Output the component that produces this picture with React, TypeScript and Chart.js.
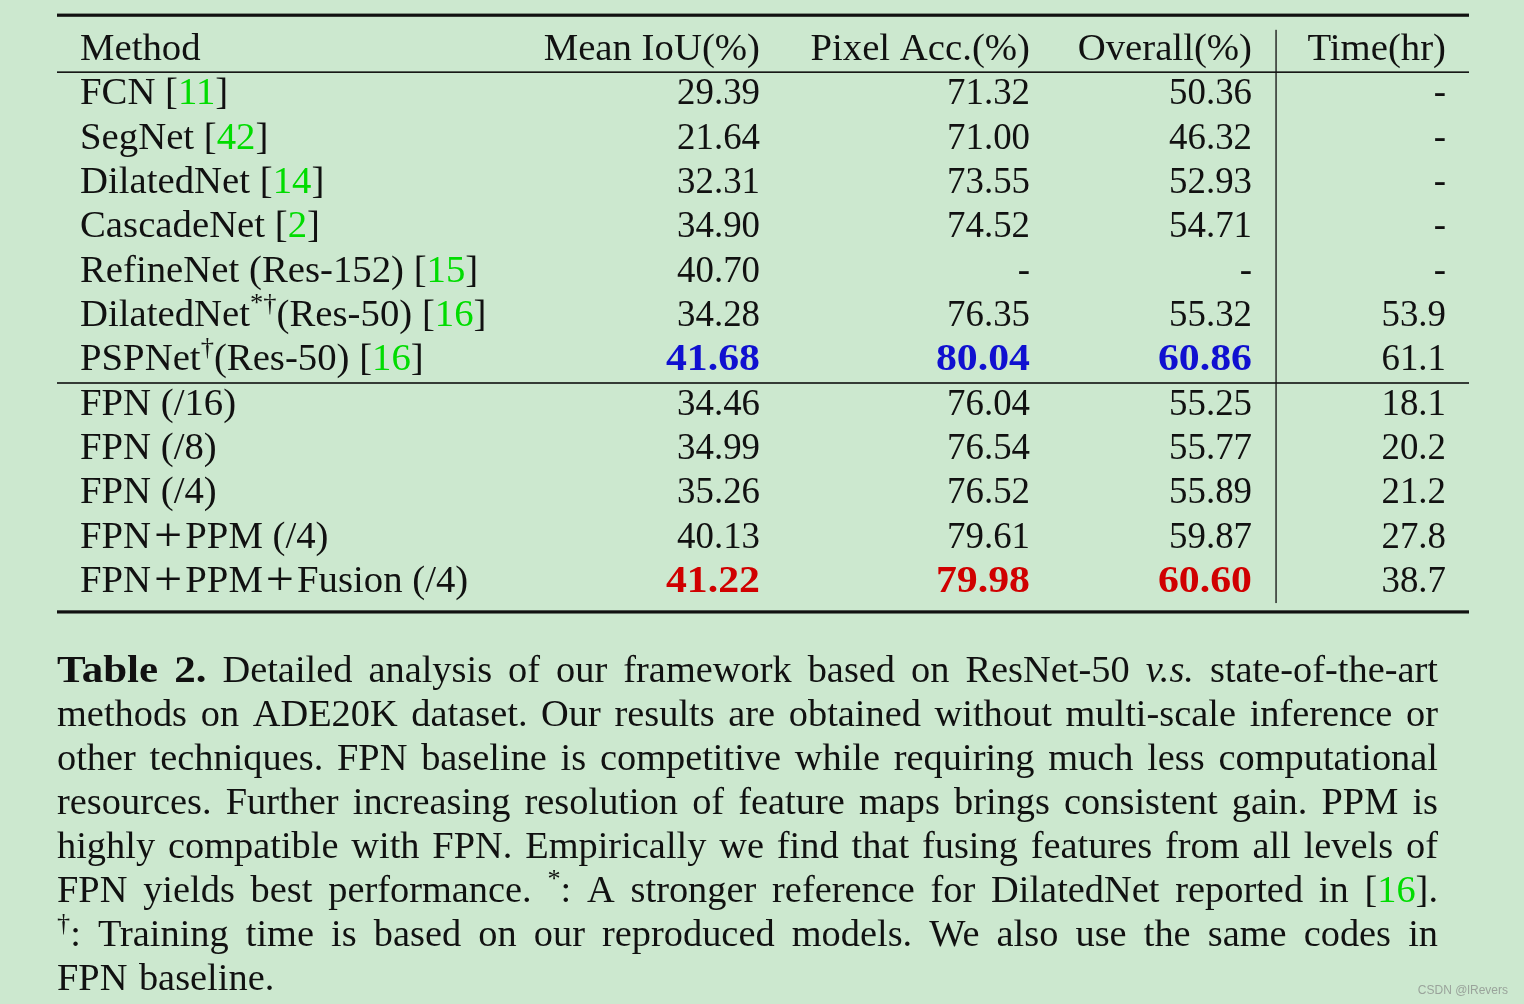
import React, { useEffect, useRef } from "react";
import { Chart, registerables } from "chart.js";

Chart.register(...registerables);

// ---------------- data ----------------
const headers = ["Method", "Mean IoU(%)", "Pixel Acc.(%)", "Overall(%)", "Time(hr)"];

const methods = [
  "FCN [{g:11}]",
  "SegNet [{g:42}]",
  "DilatedNet [{g:14}]",
  "CascadeNet [{g:2}]",
  "RefineNet (Res-152) [{g:15}]",
  "DilatedNet{sup:*†}(Res-50) [{g:16}]",
  "PSPNet{sup:†}(Res-50) [{g:16}]",
  "FPN (/16)",
  "FPN (/8)",
  "FPN (/4)",
  "FPN+PPM (/4)",
  "FPN+PPM+Fusion (/4)",
];

const meanIoU = [29.39, 21.64, 32.31, 34.9, 40.7, 34.28, 41.68, 34.46, 34.99, 35.26, 40.13, 41.22];
const pixelAcc = [71.32, 71.0, 73.55, 74.52, null, 76.35, 80.04, 76.04, 76.54, 76.52, 79.61, 79.98];
const overall = [50.36, 46.32, 52.93, 54.71, null, 55.32, 60.86, 55.25, 55.77, 55.89, 59.87, 60.6];
const timeHr = [null, null, null, null, null, 53.9, 61.1, 18.1, 20.2, 21.2, 27.8, 38.7];

// highlight of the three metric columns per row
const highlight: (string | null)[] = [null, null, null, null, null, null, "blue", null, null, null, null, "red"];
const groupBreakAfter = 6; // rule drawn after this row index (PSPNet)

const captionLines = [
  "{b:Table} {b:2.} Detailed analysis of our framework based on ResNet-50 {i:v.s.} state-of-the-art",
  "methods on ADE20K dataset. Our results are obtained without multi-scale inference or",
  "other techniques. FPN baseline is competitive while requiring much less computational",
  "resources. Further increasing resolution of feature maps brings consistent gain. PPM is",
  "highly compatible with FPN. Empirically we find that fusing features from all levels of",
  "FPN yields best performance. {sup:*}: A stronger reference for DilatedNet reported in [{g:16}].",
  "{sup:†}: Training time is based on our reproduced models. We also use the same codes in",
  "FPN baseline.",
];

const watermark = "CSDN @lRevers";

// ---------------- styles / layout ----------------
const W = 1524;
const H = 1004;
const BG = "#cce8cf";
const INK = "#111111";
const GREEN = "#00dc00";
const COLORS: Record<string, string> = { blue: "#1010d0", red: "#d00000" };
const FAMILY = '"Liberation Serif", "Times New Roman", serif';
const FS = 38;
// horizontal glyph stretch factors (Computer Modern proportions differ from Times)
const SX_TEXT = 1.02;
const SX_NUM = 0.97;
const SX_BOLDNUM = 1.1;
const SX_CAPTION = 1.01;
const BOLD_EXTRA = 1.12;
const PLUS_SCALE = 1.3;
const PLUS_PAD = 3;
const colAnchor = [80, 760, 1030, 1252, 1446];
const colAlign: CanvasTextAlign[] = ["left", "right", "right", "right", "right"];
const ruleLeft = 57;
const ruleRight = 1469;
const vLineX = 1276;
const captionLeft = 57;
const captionRight = 1438;
const captionLH = 44;

type Run = { text: string; kind: string };

function parseRich(s: string): Run[] {
  const out: Run[] = [];
  const re = /\{(\w+):([^}]*)\}/g;
  let last = 0;
  let m: RegExpExecArray | null;
  const pushPlain = (t: string) => {
    // split '+' into its own wide run (CM plus is much wider than Times)
    t.split(/(\+)/).forEach((p) => {
      if (!p) return;
      out.push({ text: p, kind: p === "+" ? "plus" : "n" });
    });
  };
  while ((m = re.exec(s))) {
    if (m.index > last) pushPlain(s.slice(last, m.index));
    out.push({ text: m[2], kind: m[1] });
    last = m.index + m[0].length;
  }
  if (last < s.length) pushPlain(s.slice(last));
  return out;
}

function fontFor(kind: string, bold: boolean) {
  const b = bold ? "bold " : "";
  if (kind === "b") return `bold ${FS}px ${FAMILY}`;
  if (kind === "i") return `${b}italic ${FS}px ${FAMILY}`;
  if (kind === "sup") return `${b}${Math.round(FS * 0.68)}px ${FAMILY}`;
  if (kind === "plus") return `${b}${Math.round(FS * PLUS_SCALE)}px ${FAMILY}`;
  return `${b}${FS}px ${FAMILY}`;
}

function sxOf(r: Run, sx: number) {
  return r.kind === "b" ? sx * BOLD_EXTRA : sx;
}

function textW(ctx: CanvasRenderingContext2D, r: Run, bold: boolean, sx: number) {
  ctx.font = fontFor(r.kind, bold);
  const pad = r.kind === "plus" ? PLUS_PAD * 2 : 0;
  return ctx.measureText(r.text).width * sxOf(r, sx) + pad;
}

function runsWidth(ctx: CanvasRenderingContext2D, runs: Run[], bold: boolean, sx: number) {
  let w = 0;
  for (const r of runs) w += textW(ctx, r, bold, sx);
  return w;
}

function drawRuns(
  ctx: CanvasRenderingContext2D,
  runs: Run[],
  x: number,
  baseline: number,
  align: CanvasTextAlign,
  color: string,
  bold: boolean,
  sx: number
) {
  const total = runsWidth(ctx, runs, bold, sx);
  let cx = align === "right" ? x - total : align === "center" ? x - total / 2 : x;
  for (const r of runs) {
    const w = textW(ctx, r, bold, sx);
    ctx.save();
    ctx.font = fontFor(r.kind, bold);
    ctx.textAlign = "left";
    ctx.textBaseline = "alphabetic";
    ctx.fillStyle = r.kind === "g" ? GREEN : color;
    const dy = r.kind === "sup" ? -FS * 0.4 : r.kind === "plus" ? 3 : 0;
    const pad = r.kind === "plus" ? PLUS_PAD : 0;
    ctx.translate(cx + pad, baseline + dy);
    ctx.scale(sxOf(r, sx), 1);
    ctx.fillText(r.text, 0, 0);
    ctx.restore();
    cx += w;
  }
  return total;
}

const fmt = (v: number | null, d: number) => (v === null ? "-" : v.toFixed(d));

const rowKeys = [headers[0], ...methods];

const tablePlugin = {
  id: "tablePlugin",
  beforeDraw(chart: any) {
    const ctx = chart.ctx as CanvasRenderingContext2D;
    ctx.save();
    ctx.fillStyle = BG;
    ctx.fillRect(0, 0, chart.width, chart.height);
    ctx.restore();
  },
  afterDraw(chart: any) {
    const ctx = chart.ctx as CanvasRenderingContext2D;
    const xs = chart.scales.x;
    const ys = chart.scales.y;
    const rowY = (i: number) => ys.getPixelForValue(i);
    const step = rowY(1) - rowY(0);
    const base = (i: number) => rowY(i) + 12;
    const colX = (c: number) => xs.getPixelForValue(colAnchor[c]);
    ctx.save();

    // rules
    const hline = (y: number, lw: number) => {
      ctx.fillStyle = INK;
      ctx.fillRect(xs.getPixelForValue(ruleLeft), y - lw / 2, xs.getPixelForValue(ruleRight) - xs.getPixelForValue(ruleLeft), lw);
    };
    const last = rowKeys.length - 1;
    hline(rowY(0) - step * 0.74, 3.2);
    hline((rowY(0) + rowY(1)) / 2 + 2, 1.6);
    hline((rowY(groupBreakAfter + 1) + rowY(groupBreakAfter + 2)) / 2 + 2.5, 1.6);
    hline(rowY(last) + step * 0.72, 3.2);
    // vertical rule
    const vx = xs.getPixelForValue(vLineX);
    ctx.fillStyle = INK;
    ctx.fillRect(vx - 0.6, rowY(0) - step * 0.41, 1.3, rowY(last) + step * 0.52 - (rowY(0) - step * 0.41));

    // header
    headers.forEach((h, c) => drawRuns(ctx, parseRich(h), colX(c), base(0), colAlign[c], INK, false, SX_TEXT));

    // body rows
    methods.forEach((m, i) => {
      const r = i + 1;
      const hl = highlight[i];
      drawRuns(ctx, parseRich(m), colX(0), base(r), "left", INK, false, SX_TEXT);
      const vals = [fmt(meanIoU[i], 2), fmt(pixelAcc[i], 2), fmt(overall[i], 2)];
      vals.forEach((v, k) => {
        drawRuns(ctx, [{ text: v, kind: "n" }], colX(k + 1), base(r), "right", hl ? COLORS[hl] : INK, !!hl, hl ? SX_BOLDNUM : SX_NUM);
      });
      drawRuns(ctx, [{ text: fmt(timeHr[i], 1), kind: "n" }], colX(4), base(r), "right", INK, false, SX_NUM);
    });

    // caption (justified)
    const capBase0 = rowY(last) + 102;
    captionLines.forEach((line, li) => {
      const y = capBase0 + li * captionLH;
      const words = line.split(" ").map(parseRich);
      const widths = words.map((w) => runsWidth(ctx, w, false, SX_CAPTION));
      const natural = textW(ctx, { text: " ", kind: "n" }, false, SX_CAPTION) * 1.2;
      const sum = widths.reduce((a, b) => a + b, 0);
      const isLast = li === captionLines.length - 1;
      const gap = isLast || words.length < 2 ? natural : Math.max(natural * 0.5, (captionRight - captionLeft - sum) / (words.length - 1));
      let x = captionLeft;
      words.forEach((w, wi) => {
        drawRuns(ctx, w, x, y, "left", INK, false, SX_CAPTION);
        x += widths[wi] + gap;
      });
    });

    // watermark
    ctx.font = `12px "Liberation Sans", Arial, sans-serif`;
    ctx.fillStyle = "#9aa39b";
    ctx.textAlign = "right";
    ctx.textBaseline = "alphabetic";
    ctx.fillText(watermark, 1508, 994);

    ctx.restore();
  },
};

export default function App() {
  const ref = useRef<HTMLCanvasElement>(null);
  useEffect(() => {
    document.body.style.margin = "0";
    const chart = new Chart(ref.current as HTMLCanvasElement, {
      type: "scatter",
      data: { labels: rowKeys, datasets: [] },
      options: {
        animation: false,
        responsive: false,
        events: [],
        layout: { padding: { top: 48, bottom: H - 580, left: 0, right: 0 } },
        plugins: { legend: { display: false }, tooltip: { enabled: false } },
        scales: {
          x: { type: "linear", min: 0, max: W, display: false },
          y: { type: "category", labels: rowKeys, min: rowKeys[0], max: rowKeys[rowKeys.length - 1], offset: false, display: false },
        },
      },
      plugins: [tablePlugin],
    } as any);
    return () => chart.destroy();
  }, []);
  return (
    <div style={{ width: W, height: H, background: BG }}>
      <canvas ref={ref} width={W} height={H} style={{ display: "block" }} />
    </div>
  );
}
